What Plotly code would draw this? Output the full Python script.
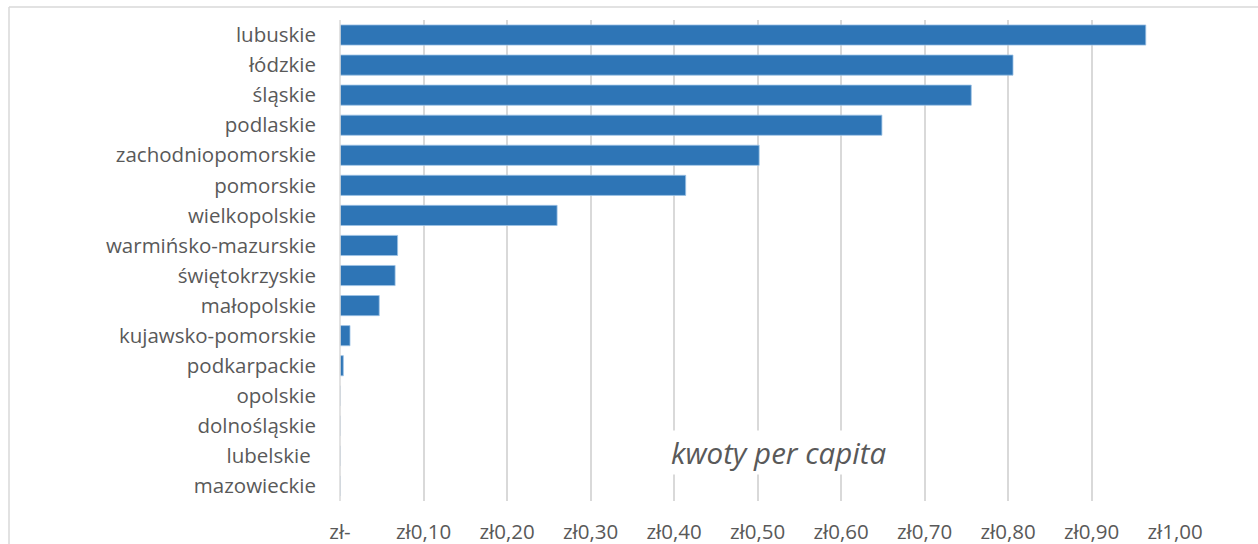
import plotly.graph_objects as go

regions = ["lubuskie", "łódzkie", "śląskie", "podlaskie", "zachodniopomorskie",
           "pomorskie", "wielkopolskie", "warmińsko-mazurskie", "świętokrzyskie",
           "małopolskie", "kujawsko-pomorskie", "podkarpackie", "opolskie",
           "dolnośląskie", "lubelskie ", "mazowieckie"]
values = [0.965, 0.806, 0.756, 0.649, 0.502, 0.414, 0.260, 0.069, 0.066,
          0.047, 0.012, 0.004, 0.0, 0.0, 0.0, 0.0]
tick_vals = [0.0, 0.1, 0.2, 0.3, 0.4, 0.5, 0.6, 0.7, 0.8, 0.9, 1.0]
tick_text = ["zł-", "zł0,10", "zł0,20", "zł0,30", "zł0,40", "zł0,50",
             "zł0,60", "zł0,70", "zł0,80", "zł0,90", "zł1,00"]

W, H = 1258, 544
L, R, T, B = 340, 83, 20, 43
pw, ph = W - L - R, H - T - B

def px_x(p):
    return (p - L) / pw

def px_y(p):
    return 1 - (p - T) / ph

fig = go.Figure(go.Bar(
    y=regions, x=values, orientation="h",
    marker=dict(color="#2E75B6", line=dict(color="#9DC3E6", width=0.8)),
    hoverinfo="skip",
))

font_family = "'Open Sans', Lato, sans-serif"
fig.update_layout(
    width=W, height=H,
    margin=dict(l=L, r=R, t=T, b=B, pad=0, autoexpand=False),
    paper_bgcolor="white", plot_bgcolor="white",
    bargap=0.33,
    showlegend=False,
    font=dict(family=font_family, color="#595959", size=20.5),
    xaxis=dict(range=[0, 1.0], tickvals=tick_vals, ticktext=tick_text,
               showgrid=True, gridcolor="#D9D9D9", gridwidth=1.5,
               zeroline=False, showline=False, ticks="", automargin=False,
               ticklabelstandoff=16, tickfont=dict(size=20.5, color="#595959"),
               fixedrange=True),
    yaxis=dict(autorange="reversed", showgrid=False, zeroline=False,
               showline=False, ticks="", ticklabelstandoff=23, automargin=False,
               tickfont=dict(size=20.5, color="#595959"), fixedrange=True),
    shapes=[
        dict(type="line", xref="paper", yref="paper",
             x0=0, x1=0, y0=0, y1=1, line=dict(color="#D9D9D9", width=1.5)),
        dict(type="line", xref="paper", yref="paper",
             x0=px_x(9), x1=px_x(9), y0=px_y(7), y1=px_y(560),
             line=dict(color="#D9D9D9", width=1.5)),
        dict(type="line", xref="paper", yref="paper",
             x0=px_x(9), x1=px_x(1270), y0=px_y(7), y1=px_y(7),
             line=dict(color="#D9D9D9", width=1.5)),
    ],
    annotations=[
        dict(text="kwoty per capita", xref="paper", yref="paper",
             x=px_x(778), y=px_y(452), showarrow=False,
             font=dict(size=29.5, color="#595959", family=font_family),
             xanchor="center", yanchor="middle",
             bgcolor="white"),
    ],
)
fig.update_annotations(font_style="italic")

fig.write_html("out.html", config={"displayModeBar": False},
               post_script="document.body.style.margin='0';document.body.style.padding='0';")
